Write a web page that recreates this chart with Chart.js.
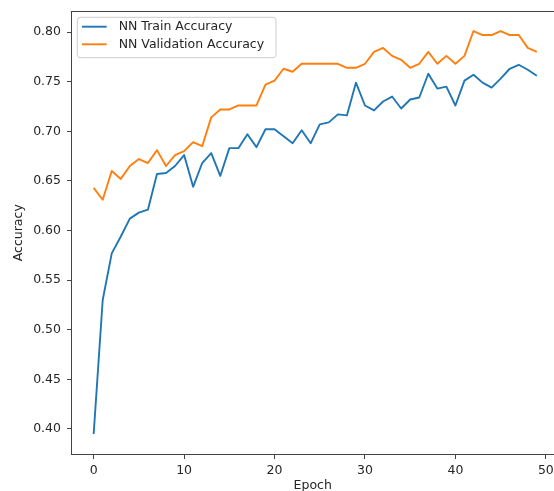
<!DOCTYPE html>
<html>
<head>
<meta charset="utf-8">
<script src="https://cdn.jsdelivr.net/npm/chart.js@4.4.0/dist/chart.umd.min.js"></script>
<style>
  html, body { margin: 0; padding: 0; background: #ffffff; overflow: hidden; }
  #wrap { position: relative; width: 554px; height: 491px; }
</style>
</head>
<body>
<div id="wrap"><canvas id="c" width="554" height="491"></canvas></div>
<script>
// Epoch index for each recorded value
const epochs = [0, 1, 2, 3, 4, 5, 6, 7, 8, 9,
                10, 11, 12, 13, 14, 15, 16, 17, 18, 19,
                20, 21, 22, 23, 24, 25, 26, 27, 28, 29,
                30, 31, 32, 33, 34, 35, 36, 37, 38, 39,
                40, 41, 42, 43, 44, 45, 46, 47, 48, 49];

// Training accuracy per epoch
const trainAccuracy = [0.395, 0.530, 0.577, 0.594, 0.612, 0.618, 0.621, 0.657, 0.658, 0.665,
                       0.676, 0.644, 0.668, 0.678, 0.655, 0.683, 0.683, 0.697, 0.684, 0.702,
                       0.702, 0.695, 0.688, 0.701, 0.688, 0.707, 0.709, 0.717, 0.716, 0.749,
                       0.726, 0.721, 0.730, 0.735, 0.723, 0.732, 0.734, 0.758, 0.743, 0.745,
                       0.726, 0.751, 0.757, 0.749, 0.744, 0.753, 0.763, 0.767, 0.762, 0.756];

// Validation accuracy per epoch
const valAccuracy = [0.643, 0.631, 0.660, 0.652, 0.665, 0.672, 0.668, 0.681, 0.665, 0.676,
                     0.680, 0.689, 0.685, 0.714, 0.722, 0.722, 0.726, 0.726, 0.726, 0.747,
                     0.751, 0.763, 0.760, 0.768, 0.768, 0.768, 0.768, 0.768, 0.764, 0.764,
                     0.768, 0.780, 0.784, 0.776, 0.772, 0.764, 0.768, 0.780, 0.768, 0.776,
                     0.768, 0.776, 0.801, 0.797, 0.797, 0.801, 0.797, 0.797, 0.784, 0.780];

const seriesLabels = ['NN Train Accuracy', 'NN Validation Accuracy'];
const xTickValues = [0, 10, 20, 30, 40, 50];
const yTickValues = [0.40, 0.45, 0.50, 0.55, 0.60, 0.65, 0.70, 0.75, 0.80];
const xTitle = 'Epoch';
const yTitle = 'Accuracy';

const FONT = { family: '"DejaVu Sans", sans-serif', size: 12.5 };
const TEXT_COLOR = '#262626';
const SPINE_COLOR = '#444444';

const toPoints = (ys) => ys.map((y, i) => ({ x: epochs[i], y: y }));

// Top spine of the axes frame
const topSpine = {
  id: 'topSpine',
  afterDraw(chart) {
    const { ctx, chartArea: a } = chart;
    ctx.save();
    ctx.strokeStyle = SPINE_COLOR;
    ctx.lineWidth = 1;
    ctx.beginPath();
    ctx.moveTo(a.left, Math.round(a.top) + 0.5);
    ctx.lineTo(a.right, Math.round(a.top) + 0.5);
    ctx.stroke();
    ctx.restore();
  }
};

// Framed legend in the upper-left corner of the plot
const boxLegend = {
  id: 'boxLegend',
  afterDraw(chart) {
    const { ctx, chartArea: a } = chart;
    const x0 = a.left + 5.8, y0 = a.top + 6.3, w = 198.7, h = 40.4, r = 3;
    ctx.save();
    ctx.beginPath();
    ctx.moveTo(x0 + r, y0);
    ctx.lineTo(x0 + w - r, y0);
    ctx.quadraticCurveTo(x0 + w, y0, x0 + w, y0 + r);
    ctx.lineTo(x0 + w, y0 + h - r);
    ctx.quadraticCurveTo(x0 + w, y0 + h, x0 + w - r, y0 + h);
    ctx.lineTo(x0 + r, y0 + h);
    ctx.quadraticCurveTo(x0, y0 + h, x0, y0 + h - r);
    ctx.lineTo(x0, y0 + r);
    ctx.quadraticCurveTo(x0, y0, x0 + r, y0);
    ctx.closePath();
    ctx.fillStyle = 'rgba(255,255,255,0.8)';
    ctx.fill();
    ctx.strokeStyle = '#cccccc';
    ctx.lineWidth = 1;
    ctx.stroke();

    chart.data.datasets.forEach((ds, i) => {
      const cy = y0 + 9.4 + i * 17.6;
      ctx.beginPath();
      ctx.strokeStyle = ds.borderColor;
      ctx.lineWidth = ds.borderWidth;
      ctx.moveTo(x0 + 4.7, cy);
      ctx.lineTo(x0 + 29.4, cy);
      ctx.stroke();
      ctx.fillStyle = TEXT_COLOR;
      ctx.font = FONT.size + 'px ' + FONT.family;
      ctx.textBaseline = 'middle';
      ctx.textAlign = 'left';
      ctx.fillText(ds.label, x0 + 41.4, cy);
    });
    ctx.restore();
  }
};

new Chart(document.getElementById('c'), {
  type: 'line',
  data: {
    datasets: [
      {
        label: seriesLabels[0],
        data: toPoints(trainAccuracy),
        borderColor: '#1f77b4',
        backgroundColor: '#1f77b4',
        borderWidth: 1.9,
        pointRadius: 0,
        tension: 0,
        fill: false,
        borderJoinStyle: 'round',
        order: 1
      },
      {
        label: seriesLabels[1],
        data: toPoints(valAccuracy),
        borderColor: '#ff7f0e',
        backgroundColor: '#ff7f0e',
        borderWidth: 1.9,
        pointRadius: 0,
        tension: 0,
        fill: false,
        borderJoinStyle: 'round',
        order: 0
      }
    ]
  },
  options: {
    responsive: false,
    animation: false,
    devicePixelRatio: 1,
    layout: { padding: { top: 11, left: 0, right: 0, bottom: 0 } },
    plugins: {
      legend: { display: false },
      tooltip: { enabled: false }
    },
    scales: {
      x: {
        type: 'linear',
        min: -2.45,
        max: 50.9,
        afterBuildTicks: (s) => { s.ticks = xTickValues.map(v => ({ value: v })); },
        afterFit: (s) => { s.height = 36.5; s.paddingLeft = 0; s.paddingRight = 0; },
        ticks: {
          font: FONT,
          color: TEXT_COLOR,
          padding: 4,
          maxRotation: 0,
          autoSkip: false,
          callback: (v) => String(v)
        },
        grid: {
          drawOnChartArea: false,
          drawTicks: true,
          tickLength: 4.5,
          tickColor: SPINE_COLOR,
          tickWidth: 1
        },
        border: { display: true, color: SPINE_COLOR, width: 1 },
        title: {
          display: true,
          text: xTitle,
          font: FONT,
          color: TEXT_COLOR,
          padding: { top: 0, bottom: -2.5 }
        }
      },
      y: {
        type: 'linear',
        min: 0.3743,
        max: 0.8212,
        afterBuildTicks: (s) => { s.ticks = yTickValues.map(v => ({ value: v })); },
        afterFit: (s) => { s.width = 71.5; s.paddingTop = 0; s.paddingBottom = 0; },
        ticks: {
          font: FONT,
          color: TEXT_COLOR,
          padding: 6,
          callback: (v) => Number(v).toFixed(2)
        },
        grid: {
          drawOnChartArea: false,
          drawTicks: true,
          tickLength: 4.5,
          tickColor: SPINE_COLOR,
          tickWidth: 1
        },
        border: { display: true, color: SPINE_COLOR, width: 1 },
        title: {
          display: true,
          text: yTitle,
          font: FONT,
          color: TEXT_COLOR,
          padding: { top: 11.5, bottom: 0 }
        }
      }
    }
  },
  plugins: [topSpine, boxLegend]
});
</script>
</body>
</html>
